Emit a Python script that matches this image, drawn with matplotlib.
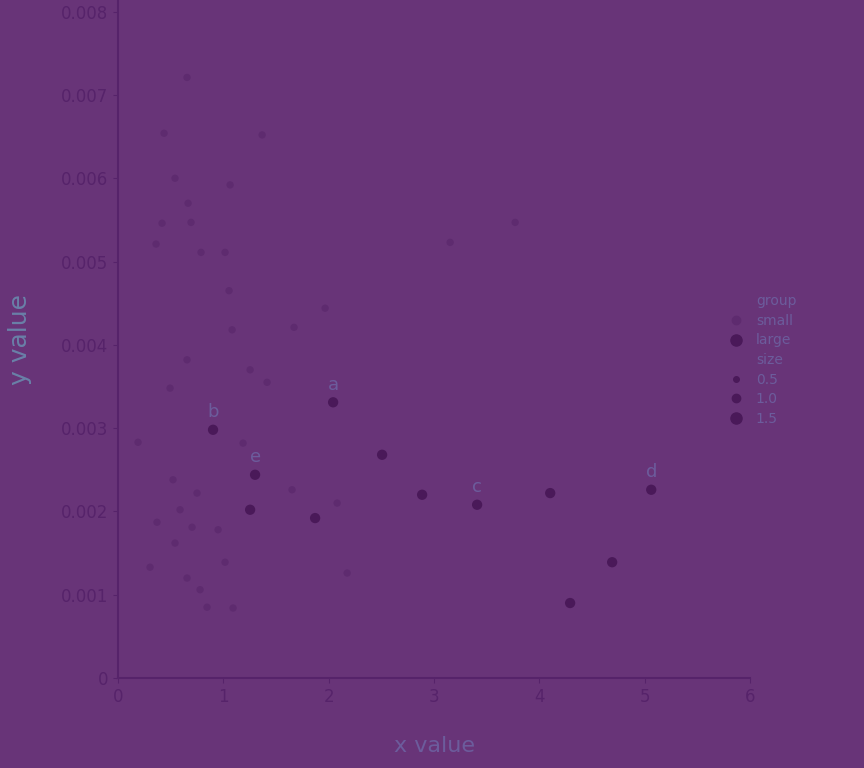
import matplotlib
matplotlib.use("Agg")
import matplotlib.pyplot as plt
from matplotlib.lines import Line2D

# faint small points
x_small = [0.655, 0.437, 1.368, 0.541, 1.064, 0.665, 0.693, 0.418, 0.361, 0.788,
           1.016, 1.054, 1.966, 1.083, 1.671, 3.153, 3.770, 0.655, 1.254, 1.415,
           0.494, 0.190, 1.187, 0.522, 0.750, 1.652, 2.080, 0.589, 0.370, 0.703,
           0.950, 0.541, 1.016, 0.304, 2.175, 0.655, 0.779, 0.845, 1.092]
y_small = [0.00721, 0.00654, 0.00652, 0.00600, 0.00592, 0.00570, 0.00547, 0.00546, 0.00521, 0.00511,
           0.00511, 0.00465, 0.00444, 0.00418, 0.00421, 0.00523, 0.00547, 0.00382, 0.00370, 0.00355,
           0.00348, 0.00283, 0.00282, 0.00238, 0.00222, 0.00226, 0.00210, 0.00202, 0.00187, 0.00181,
           0.00178, 0.00162, 0.00139, 0.00133, 0.00126, 0.00120, 0.00106, 0.00085, 0.00084]

# darker large points
x_big = [2.507, 2.887, 4.103, 4.691, 4.292, 1.871, 3.409, 5.062, 1.301, 1.254, 2.042, 0.902]
y_big = [0.00268, 0.00220, 0.00222, 0.00139, 0.00090, 0.00192, 0.00208, 0.00226, 0.00244, 0.00202, 0.00331, 0.00298]

# labelled points
lab_names = ["a", "b", "c", "d", "e"]
lab_x = [2.042, 0.902, 3.409, 5.062, 1.301]
lab_y = [0.00331, 0.00298, 0.00208, 0.00226, 0.00244]

y_ticks = [0, 0.001, 0.002, 0.003, 0.004, 0.005, 0.006, 0.007, 0.008]
x_ticks = [0, 1, 2, 3, 4, 5, 6]

bg = '#683478'
dark = '#56236a'

fig = plt.figure(figsize=(8.64, 7.68), dpi=100, facecolor=bg)
ax = fig.add_axes([0.1366, 0.1172, 0.7315, 0.8828], facecolor=bg)

ax.scatter(x_small, y_small, s=28, color='#5e2b6f', edgecolors='none', zorder=2)
ax.scatter(x_big, y_big, s=55, color='#4a1959', edgecolors='none', zorder=3)

for n, xx, yy in zip(lab_names, lab_x, lab_y):
    ax.annotate(n, (xx, yy), xytext=(0, 6), textcoords='offset points',
                ha='center', va='bottom', fontsize=13, color='#6c5c9c')

ax.set_xlim(0, 6)
ax.set_ylim(0, 0.00814)
ax.set_xticks(x_ticks)
ax.set_yticks(y_ticks)
ax.set_yticklabels(['0', '0.001', '0.002', '0.003', '0.004', '0.005', '0.006', '0.007', '0.008'])
ax.tick_params(colors=dark, labelsize=12, labelcolor=dark)

for s in ['top', 'right']:
    ax.spines[s].set_visible(False)
for s in ['left', 'bottom']:
    ax.spines[s].set_color(dark)
    ax.spines[s].set_linewidth(1.5)

ax.set_xlabel("x value", fontsize=16, color='#6c5c9c', labelpad=22)
# y label sits right at the left edge
fig.text(20 / 864, 1 - 340 / 768, "y value", rotation=90, ha='center', va='center',
         fontsize=18, color='#6a80a8')

handles = [
    Line2D([], [], linestyle='none', label='group'),
    Line2D([], [], marker='o', linestyle='none', color='#5e2b6f', markersize=6, label='small'),
    Line2D([], [], marker='o', linestyle='none', color='#4a1959', markersize=8, label='large'),
    Line2D([], [], linestyle='none', label='size'),
    Line2D([], [], marker='o', linestyle='none', color='#4a1959', markersize=4, label='0.5'),
    Line2D([], [], marker='o', linestyle='none', color='#4a1959', markersize=6, label='1.0'),
    Line2D([], [], marker='o', linestyle='none', color='#4a1959', markersize=8, label='1.5'),
]
leg = fig.legend(handles=handles, loc='center left', bbox_to_anchor=(710 / 864, 1 - 360 / 768),
                 frameon=False, fontsize=10, labelspacing=0.4, handletextpad=0.4)
for t in leg.get_texts():
    t.set_color('#6c5c9c')

plt.savefig('out.png', dpi=100, facecolor=bg)
